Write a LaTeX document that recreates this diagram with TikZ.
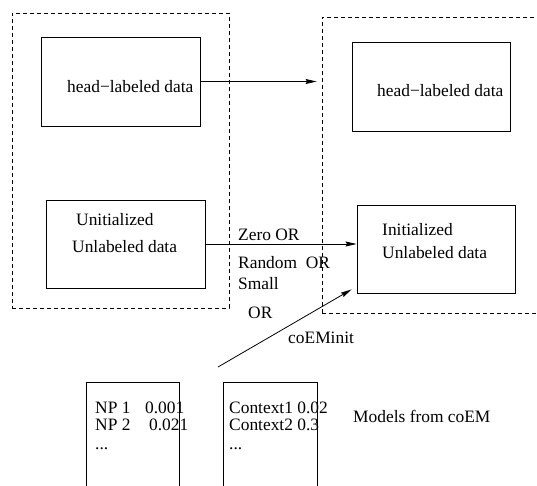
\documentclass[tikz,border=0pt]{standalone}
\usepackage{fontspec}
\setmainfont{Liberation Serif}
\usetikzlibrary{arrows.meta,calc}
\begin{document}
\begin{tikzpicture}[x=1pt,y=-1pt,
  box/.style={draw, line width=0.9pt, inner sep=0pt},
  dbox/.style={draw, line width=0.8pt, dash pattern=on 4pt off 3pt, inner sep=0pt},
  lbl/.style={anchor=base west, inner sep=0pt, font=\fontsize{17.4}{20}\selectfont},
  arr/.style={line width=0.8pt, -{Stealth[length=11pt,width=5pt,inset=1.5pt]}}]
\useasboundingbox (0,0) rectangle (537,485);

% dashed groups
\node[dbox, minimum width=217pt, minimum height=295pt] (ldash) at (120.5,160.5) {};
\node[dbox, minimum width=238pt, minimum height=296pt] (rdash) at (441,165) {};

% boxes
\node[box, minimum width=159pt, minimum height=89pt] (hl) at (120.5,81.5) {};
\node[box, minimum width=159pt, minimum height=88pt] (ul) at (125.5,244) {};
\node[box, minimum width=158pt, minimum height=89pt] (hr) at (431,86.5) {};
\node[box, minimum width=158pt, minimum height=88pt] (il) at (436,249) {};
\node[box, minimum width=93pt, minimum height=110pt] (np) at (132.5,437) {};
\node[box, minimum width=94pt, minimum height=110pt] (ctx) at (270,437) {};

% texts
\node[lbl] (hlt) at (67,92) {head−labeled data};
\node[lbl] (hrt) at (377,96) {head−labeled data};
\node[lbl] (ult1) at (76,225) {Unitialized};
\node[lbl] (ult2) at (72,252) {Unlabeled data};
\node[lbl] (ilt1) at (382,235) {Initialized};
\node[lbl] (ilt2) at (382,258) {Unlabeled data};
\node[lbl] (z1) at (238,240) {Zero OR};
\node[lbl] (z2) at (238,268) {Random~~OR};
\node[lbl] (z3) at (238,289) {Small};
\node[lbl] (z4) at (248,318) {OR};
\node[lbl] (ci) at (288,343) {coEMinit};
\node[lbl] (np1) at (95,413) {\makebox[50pt][l]{NP 1}0.001};
\node[lbl] (np2) at (95,430) {\makebox[54pt][l]{NP 2}0.021};
\node[lbl] (np3) at (95,449) {...};
\node[lbl] (cx1) at (229,413) {Context1 0.02};
\node[lbl] (cx2) at (229,430) {Context2 0.3};
\node[lbl] (cx3) at (229,449) {...};
\node[lbl] (mod) at (353,422) {Models from coEM};

% connectors
\draw[arr, shorten >=5pt] (hl.east) -- (hl.east -| rdash.west);
\draw[arr] (ul.east) -- (ul.east -| il.west);
\coordinate (cs) at (218,367);
\draw[arr] (cs) -- ($(il.south west)+(-5,-4)$);
\end{tikzpicture}
\end{document}
